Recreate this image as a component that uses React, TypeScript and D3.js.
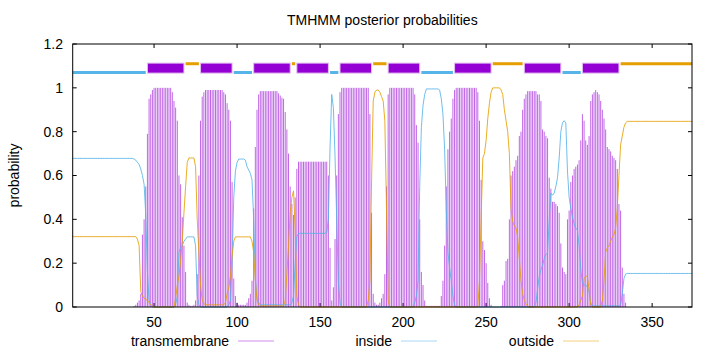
import * as d3 from "d3";

// posterior probabilities, one value per residue (1..374)
const transmembrane = [
  0, 0, 0, 0, 0, 0, 0, 0, 0, 0,
  0, 0, 0, 0, 0, 0, 0, 0, 0, 0,
  0, 0, 0, 0, 0, 0, 0, 0, 0, 0,
  0, 0, 0, 0, 0, 0, 0, 0.005, 0.01, 0.02,
  0.03, 0.06, 0.33, 0.4, 0.55, 0.79, 0.95, 0.97, 0.99, 1,
  1, 1, 1, 1, 1, 1, 1, 1, 1, 1,
  0.98, 0.94, 0.91, 0.85, 0.6, 0.56, 0.41, 0.28, 0.16, 0.02,
  0.01, 0.005, 0.005, 0.01, 0.03, 0.15, 0.6, 0.85, 0.96, 0.98,
  0.99, 0.99, 0.99, 0.99, 0.99, 0.99, 0.99, 0.99, 0.99, 0.99,
  0.99, 0.98, 0.97, 0.93, 0.9, 0.85, 0.57, 0.13, 0.05, 0.02,
  0.01, 0.01, 0.01, 0.01, 0.01, 0.02, 0.04, 0.06, 0.12, 0.45,
  0.73, 0.9, 0.97, 0.985, 0.985, 0.985, 0.985, 0.985, 0.985, 0.985,
  0.985, 0.985, 0.985, 0.985, 0.975, 0.965, 0.955, 0.95, 0.89, 0.81,
  0.7, 0.55, 0.47, 0.42, 0.5, 0.63, 0.663, 0.663, 0.663, 0.663,
  0.663, 0.663, 0.663, 0.663, 0.663, 0.663, 0.663, 0.663, 0.663, 0.663,
  0.663, 0.663, 0.663, 0.663, 0.6, 0.27, 0.03, 0.09, 0.31, 0.6,
  0.88, 0.98, 1, 1, 1, 1, 1, 1, 1, 1,
  1, 1, 1, 1, 1, 1, 1, 1, 1, 0.88,
  0.43, 0.06, 0.02, 0.01, 0.01, 0.02, 0.04, 0.06, 0.15, 0.55,
  0.97, 1, 1, 1, 1, 1, 1, 1, 1, 1,
  1, 1, 1, 1, 1, 1, 0.97, 0.83, 0.75, 0.4,
  0.16, 0.1, 0.03, 0.005, 0.005, 0.005, 0.005, 0.005, 0.005, 0.005,
  0.005, 0.005, 0.05, 0.12, 0.28, 0.55, 0.72, 0.8, 0.86, 0.95,
  0.99, 1, 1, 1, 1, 1, 1, 1, 1, 1,
  1, 1, 1, 1, 0.98, 0.85, 0.58, 0.3, 0.26, 0.2,
  0.11, 0.04, 0.01, 0, 0, 0, 0, 0, 0.005, 0.1,
  0.12, 0.21, 0.22, 0.4, 0.6, 0.62, 0.64, 0.67, 0.69, 0.78,
  0.8, 0.9, 0.95, 0.97, 0.985, 0.985, 0.985, 0.985, 0.985, 0.985,
  0.97, 0.97, 0.94, 0.81, 0.8, 0.78, 0.77, 0.59, 0.54, 0.48,
  0.48, 0.47, 0.46, 0.43, 0.29, 0.18, 0.16, 0.15, 0.4, 0.44,
  0.57, 0.6, 0.63, 0.64, 0.65, 0.67, 0.76, 0.88, 0.85, 0.76,
  0.74, 0.78, 0.94, 0.97, 0.98, 0.99, 0.98, 0.97, 0.94, 0.9,
  0.86, 0.81, 0.73, 0.72, 0.71, 0.69, 0.68, 0.67, 0.63, 0.47,
  0.44, 0.18, 0.06, 0.02, 0, 0, 0, 0, 0, 0,
  0, 0, 0, 0, 0, 0, 0, 0, 0, 0,
  0, 0, 0, 0, 0, 0, 0, 0, 0, 0,
  0, 0, 0, 0, 0, 0, 0, 0, 0, 0,
  0, 0, 0, 0,
];

const inside = [
  0.678, 0.678, 0.678, 0.678, 0.678, 0.678, 0.678, 0.678, 0.678, 0.678,
  0.678, 0.678, 0.678, 0.678, 0.678, 0.678, 0.678, 0.678, 0.678, 0.678,
  0.678, 0.678, 0.678, 0.678, 0.678, 0.678, 0.678, 0.678, 0.678, 0.678,
  0.678, 0.678, 0.678, 0.678, 0.678, 0.678, 0.678, 0.675, 0.67, 0.66,
  0.65, 0.63, 0.6, 0.56, 0.42, 0.16, 0.03, 0.01, 0, 0,
  0, 0, 0, 0, 0, 0, 0, 0, 0, 0,
  0, 0, 0.01, 0.05, 0.25, 0.27, 0.28, 0.3, 0.31, 0.32,
  0.32, 0.32, 0.32, 0.32, 0.28, 0.05, 0.01, 0, 0, 0,
  0, 0, 0, 0, 0, 0, 0, 0, 0, 0,
  0, 0, 0, 0, 0.01, 0.03, 0.2, 0.5, 0.62, 0.66,
  0.675, 0.675, 0.675, 0.675, 0.67, 0.64, 0.625, 0.61, 0.58, 0.4,
  0.13, 0.04, 0.02, 0.01, 0.01, 0.01, 0.01, 0.01, 0.01, 0.01,
  0.01, 0.01, 0.01, 0.01, 0.01, 0.01, 0.01, 0.01, 0.01, 0.01,
  0.01, 0.01, 0.02, 0.05, 0.2, 0.32, 0.336, 0.336, 0.336, 0.336,
  0.336, 0.336, 0.336, 0.336, 0.336, 0.336, 0.336, 0.336, 0.336, 0.336,
  0.336, 0.336, 0.336, 0.34, 0.4, 0.73, 0.97, 0.91, 0.69, 0.4,
  0.12, 0.02, 0, 0, 0, 0, 0, 0, 0, 0,
  0, 0, 0, 0, 0, 0, 0, 0, 0, 0,
  0, 0, 0, 0, 0, 0, 0, 0, 0, 0,
  0, 0, 0, 0, 0, 0, 0, 0, 0, 0,
  0, 0, 0, 0, 0, 0, 0.02, 0.05, 0.12, 0.55,
  0.82, 0.92, 0.97, 0.995, 0.995, 0.995, 0.995, 0.995, 0.995, 0.995,
  0.995, 0.99, 0.95, 0.88, 0.72, 0.45, 0.25, 0.18, 0.12, 0.05,
  0.01, 0, 0, 0, 0, 0, 0, 0, 0, 0,
  0, 0, 0, 0, 0, 0, 0, 0, 0, 0,
  0, 0, 0, 0, 0, 0, 0, 0, 0, 0,
  0, 0, 0, 0, 0, 0, 0, 0, 0, 0,
  0, 0, 0, 0, 0, 0, 0, 0, 0, 0.02,
  0.08, 0.14, 0.17, 0.19, 0.22, 0.24, 0.245, 0.4, 0.52, 0.51,
  0.52, 0.55, 0.59, 0.68, 0.8, 0.84, 0.85, 0.84, 0.62, 0.5,
  0.45, 0.41, 0.38, 0.36, 0.35, 0.28, 0.17, 0.11, 0.1, 0.1,
  0.09, 0.07, 0.02, 0.005, 0.005, 0.005, 0.005, 0.005, 0.005, 0.005,
  0.005, 0.005, 0.005, 0.005, 0.005, 0.005, 0.005, 0.005, 0.005, 0.005,
  0.01, 0.06, 0.13, 0.15, 0.153, 0.153, 0.153, 0.153, 0.153, 0.153,
  0.153, 0.153, 0.153, 0.153, 0.153, 0.153, 0.153, 0.153, 0.153, 0.153,
  0.153, 0.153, 0.153, 0.153, 0.153, 0.153, 0.153, 0.153, 0.153, 0.153,
  0.153, 0.153, 0.153, 0.153, 0.153, 0.153, 0.153, 0.153, 0.153, 0.153,
  0.153, 0.153, 0.153, 0.153,
];

const outside = [
  0.321, 0.321, 0.321, 0.321, 0.321, 0.321, 0.321, 0.321, 0.321, 0.321,
  0.321, 0.321, 0.321, 0.321, 0.321, 0.321, 0.321, 0.321, 0.321, 0.321,
  0.321, 0.321, 0.321, 0.321, 0.321, 0.321, 0.321, 0.321, 0.321, 0.321,
  0.321, 0.321, 0.321, 0.321, 0.321, 0.321, 0.321, 0.321, 0.321, 0.31,
  0.28, 0.07, 0.05, 0.04, 0.035, 0.03, 0.02, 0.01, 0.005, 0,
  0, 0, 0, 0, 0, 0, 0, 0, 0, 0,
  0, 0, 0.04, 0.1, 0.14, 0.21, 0.3, 0.43, 0.55, 0.66,
  0.68, 0.68, 0.68, 0.68, 0.64, 0.4, 0.25, 0.1, 0.03, 0.015,
  0.01, 0.01, 0.01, 0.01, 0.01, 0.01, 0.01, 0.01, 0.01, 0.01,
  0.01, 0.01, 0.02, 0.06, 0.09, 0.14, 0.23, 0.3, 0.32, 0.32,
  0.32, 0.32, 0.32, 0.32, 0.32, 0.32, 0.32, 0.32, 0.3, 0.25,
  0.12, 0.03, 0.01, 0.005, 0.005, 0.005, 0.005, 0.005, 0.005, 0.005,
  0.005, 0.005, 0.005, 0.005, 0.005, 0.005, 0.005, 0.005, 0.03, 0.15,
  0.28, 0.43, 0.5, 0.53, 0.35, 0.05, 0.01, 0, 0, 0,
  0, 0, 0, 0, 0, 0, 0, 0, 0, 0,
  0, 0, 0, 0, 0, 0, 0, 0, 0, 0,
  0, 0, 0, 0, 0, 0, 0, 0, 0, 0,
  0, 0, 0, 0, 0, 0, 0, 0, 0.03, 0.12,
  0.57, 0.94, 0.98, 0.99, 0.99, 0.98, 0.96, 0.94, 0.85, 0.45,
  0.03, 0, 0, 0, 0, 0, 0, 0, 0, 0,
  0, 0, 0, 0, 0, 0, 0, 0, 0, 0,
  0, 0, 0, 0, 0, 0, 0, 0, 0, 0,
  0, 0, 0, 0, 0, 0, 0, 0, 0, 0,
  0, 0, 0, 0, 0, 0, 0, 0, 0, 0,
  0, 0, 0, 0, 0, 0.12, 0.4, 0.68, 0.7, 0.76,
  0.86, 0.93, 0.98, 1, 1, 1, 1, 1, 0.99, 0.97,
  0.9, 0.85, 0.8, 0.7, 0.45, 0.39, 0.37, 0.36, 0.32, 0.22,
  0.12, 0.06, 0.03, 0.015, 0.005, 0, 0, 0, 0, 0,
  0, 0, 0, 0, 0, 0, 0, 0, 0, 0,
  0, 0, 0, 0, 0, 0, 0, 0, 0, 0,
  0, 0, 0, 0, 0, 0.01, 0.03, 0.05, 0.13, 0.14,
  0.14, 0.08, 0.01, 0, 0, 0, 0, 0, 0, 0.03,
  0.12, 0.25, 0.27, 0.28, 0.3, 0.32, 0.33, 0.36, 0.45, 0.6,
  0.74, 0.78, 0.82, 0.84, 0.847, 0.847, 0.847, 0.847, 0.847, 0.847,
  0.847, 0.847, 0.847, 0.847, 0.847, 0.847, 0.847, 0.847, 0.847, 0.847,
  0.847, 0.847, 0.847, 0.847, 0.847, 0.847, 0.847, 0.847, 0.847, 0.847,
  0.847, 0.847, 0.847, 0.847, 0.847, 0.847, 0.847, 0.847, 0.847, 0.847,
  0.847, 0.847, 0.847, 0.847,
];

// predicted topology, [first residue, last residue]
const insideSegments = [[1, 45], [98, 109], [156, 161], [211, 230], [296, 307]];
const tmSegments = [
  [46, 68], [78, 97], [110, 132], [136, 155], [162, 181],
  [191, 210], [231, 253], [273, 295], [308, 330],
];
const outsideSegments = [[69, 77], [133, 135], [182, 190], [254, 272], [331, 374]];

const xTicks = [50, 100, 150, 200, 250, 300, 350];
const yTicks = [0, 0.2, 0.4, 0.6, 0.8, 1, 1.2];

const FONT = "'Liberation Sans', Arial, Helvetica, sans-serif";
const PURPLE = "#9400d3";
const BLUE = "#56b4e9";
const ORANGE = "#e69f00";

const plot = { left: 72.7, right: 692, top: 44, bottom: 307 };

export default function App() {
  const x = d3.scaleLinear().domain([1, transmembrane.length]).range([plot.left, plot.right]);
  const y = d3.scaleLinear().domain([0, 1.2]).range([plot.bottom, plot.top]);
  const line = d3.line<number>().x((_, i) => x(i + 1)).y((d) => y(d));

  const legend = [
    { label: "transmembrane", color: PURPLE, opacity: 0.45, end: 229 },
    { label: "inside", color: BLUE, opacity: 0.5, end: 392 },
    { label: "outside", color: ORANGE, opacity: 0.5, end: 554 },
  ];

  return (
    <svg width={720} height={352} style={{ position: "absolute", left: 0, top: 0 }}
      fontFamily={FONT} fontSize={14} fill="#000">
      <rect width={720} height={352} fill="#fff" />
      <text x={(plot.left + plot.right) / 2} y={25} textAnchor="middle">TMHMM posterior probabilities</text>
      <text transform={`translate(19,${(plot.top + plot.bottom) / 2}) rotate(-90)`} textAnchor="middle">probability</text>

      {/* tick marks and labels */}
      {yTicks.map((t) => (
        <g key={"y" + t}>
          <line x1={plot.left} x2={plot.left + 4} y1={y(t)} y2={y(t)} stroke="#000" />
          <line x1={plot.right - 4} x2={plot.right} y1={y(t)} y2={y(t)} stroke="#000" />
          <text x={63} y={y(t)} dy="0.35em" textAnchor="end">{String(t)}</text>
        </g>
      ))}
      {xTicks.map((t) => (
        <g key={"x" + t}>
          <line x1={x(t)} x2={x(t)} y1={plot.bottom} y2={plot.bottom - 4} stroke="#000" />
          <line x1={x(t)} x2={x(t)} y1={plot.top} y2={plot.top + 4} stroke="#000" />
          <text x={x(t)} y={327} textAnchor="middle">{String(t)}</text>
        </g>
      ))}

      {/* transmembrane impulses */}
      <g stroke={PURPLE} strokeOpacity={0.6} strokeWidth={1}>
        {transmembrane.map((v, i) => (
          <line key={i} x1={x(i + 1)} x2={x(i + 1)} y1={y(0)} y2={y(v)} />
        ))}
      </g>
      <path d={line(inside) ?? ""} fill="none" stroke={BLUE} strokeOpacity={0.85} strokeWidth={1} />
      <path d={line(outside) ?? ""} fill="none" stroke={ORANGE} strokeOpacity={0.85} strokeWidth={1} />

      {/* topology track */}
      {insideSegments.map(([s, e]) => (
        <line key={"i" + s} x1={x(s)} x2={x(e)} y1={y(1.07)} y2={y(1.07)} stroke={BLUE} strokeWidth={3} />
      ))}
      {outsideSegments.map(([s, e]) => (
        <line key={"o" + s} x1={x(s)} x2={x(e)} y1={y(1.11)} y2={y(1.11)} stroke={ORANGE} strokeWidth={3} />
      ))}
      {tmSegments.map(([s, e]) => (
        <rect key={"t" + s} x={x(s)} width={x(e) - x(s)} y={y(1.09) - 5} height={10}
          fill={PURPLE} stroke="#e2bff0" strokeWidth={1} />
      ))}

      <rect x={plot.left} y={plot.top} width={plot.right - plot.left} height={plot.bottom - plot.top}
        fill="none" stroke="#000" strokeWidth={1} />

      {/* key */}
      {legend.map((d) => (
        <g key={d.label}>
          <text x={d.end} y={346} textAnchor="end">{d.label}</text>
          <line x1={d.end + 9} x2={d.end + 45} y1={341} y2={341} stroke={d.color} strokeOpacity={d.opacity} />
        </g>
      ))}
    </svg>
  );
}
